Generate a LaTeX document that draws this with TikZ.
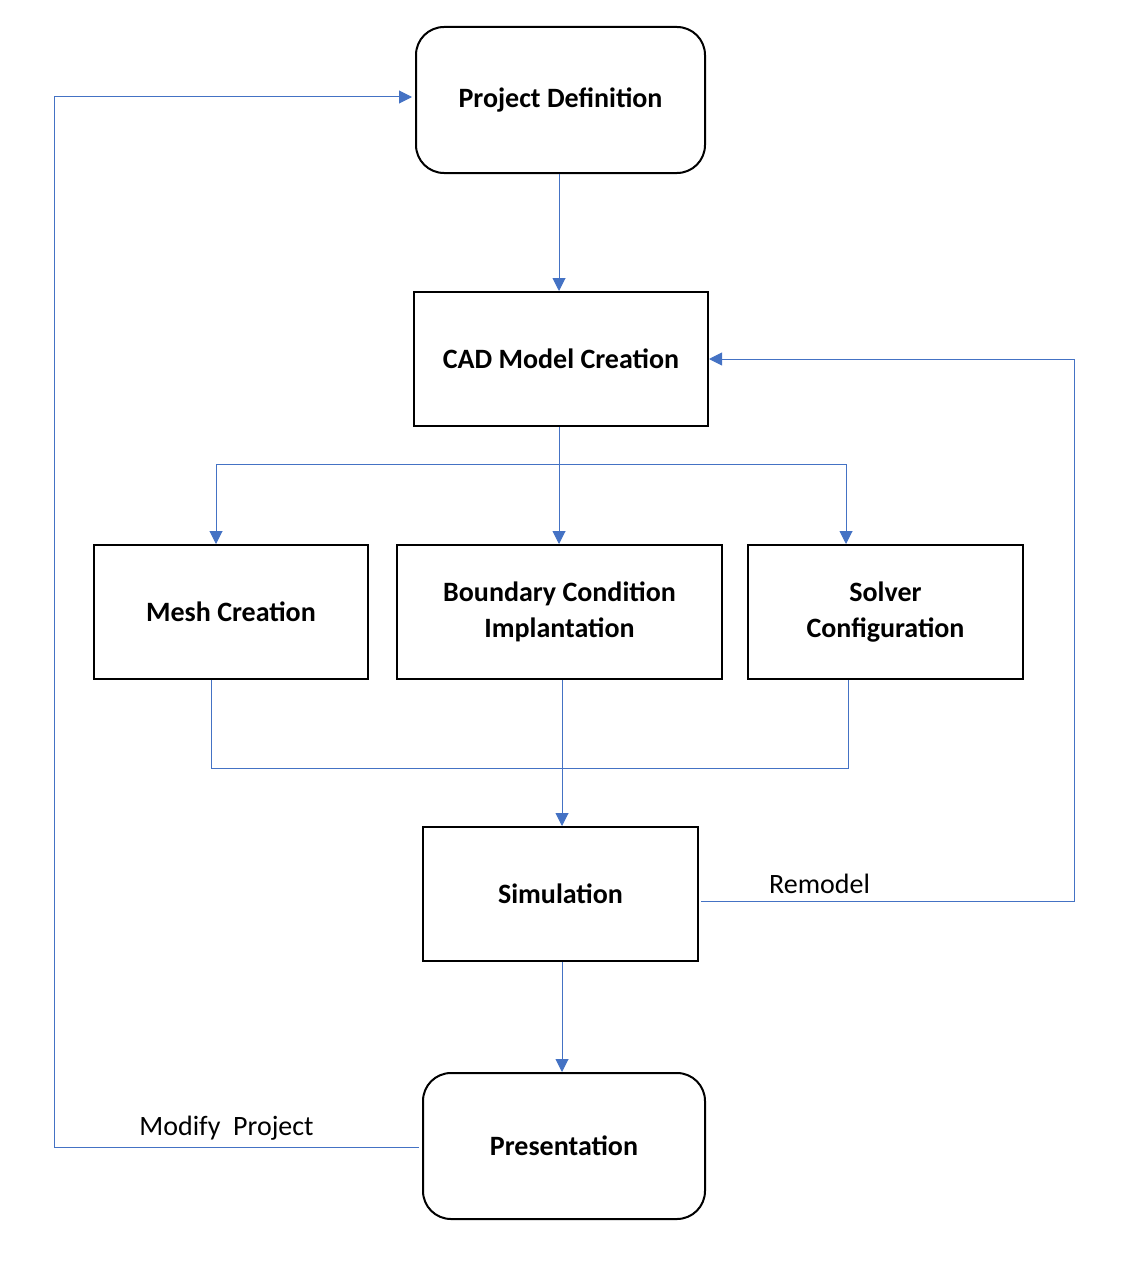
\documentclass[tikz,border=0pt]{standalone}
\usepackage{fontspec}
\setmainfont{Carlito}
\usetikzlibrary{arrows.meta}
\definecolor{lnblue}{HTML}{4472C4}
\tikzset{
  boxsq/.style={draw=black, line width=2pt, fill=white, inner sep=0pt, font=\fontsize{28}{36}\selectfont\bfseries, align=center},
  boxrd/.style={boxsq, rounded corners=28pt},
  conn/.style={draw=lnblue, line width=1pt},
  arr/.style={conn, -{Triangle[length=13pt,width=13pt,fill=lnblue]}},
  lbl/.style={font=\fontsize{28}{34}\selectfont, inner sep=0pt}
}
\begin{document}
\begin{tikzpicture}[x=1pt,y=-1pt]
\useasboundingbox (0,0) rectangle (1128,1287);
% nodes
\node[boxrd, minimum width=289pt, minimum height=146pt] (pd) at (560.5,100) {Project Definition};
\node[boxsq, minimum width=294pt, minimum height=134pt] (cad) at (561,359) {CAD Model Creation};
\node[boxsq, minimum width=274pt, minimum height=134pt] (mesh) at (231,612) {Mesh Creation};
\node[boxsq, minimum width=325pt, minimum height=134pt] (bc) at (559.5,612) {\raisebox{-3pt}{Boundary Condition}\\\raisebox{-3pt}{Implantation}};
\node[boxsq, minimum width=275pt, minimum height=134pt] (solv) at (885.5,612) {\raisebox{-3pt}{Solver}\\\raisebox{-3pt}{Configuration}};
\node[boxsq, minimum width=275pt, minimum height=134pt] (sim) at (560.5,894) {Simulation};
\node[boxrd, minimum width=282pt, minimum height=146pt] (pres) at (564,1146) {Presentation};
% junction coordinates
\coordinate (j1) at (559,464);
\coordinate (jl) at (216,464);
\coordinate (jr) at (846,464);
\coordinate (k1) at (562,768);
\coordinate (kl) at (211,768);
\coordinate (kr) at (848,768);
\coordinate (rm1) at (1074,901);
\coordinate (rm2) at (1074,359);
\coordinate (mp1) at (54,1147);
\coordinate (mp2) at (54,97);
\coordinate (pdin) at (412,97);
% connectors
\draw[arr] (pd.south -| j1) -- (cad.north -| j1);
\draw[arr] (cad.south -| j1) -- (bc.north -| j1);
\draw[conn] (jl) -- (jr);
\draw[arr] (jl) -- (mesh.north -| jl);
\draw[arr] (jr) -- (solv.north -| jr);
\draw[conn] (mesh.south -| kl) -- (kl) -- (kr) -- (solv.south -| kr);
\draw[arr] (bc.south -| k1) -- (sim.north -| k1);
\draw[arr] (sim.south -| k1) -- (pres.north -| k1);
\draw[arr] ([xshift=2pt]sim.east |- rm1) -- (rm1) -- (rm2) -- (cad.east);
\draw[arr] ([xshift=-3pt]pres.west |- mp1) -- (mp1) -- (mp2) -- (pdin);
% labels
\node[lbl] (remodel) at (819.5,884) {Remodel};
\node[lbl] (modify) at (226.5,1128) {Modify\ \ Project};
\end{tikzpicture}
\end{document}
